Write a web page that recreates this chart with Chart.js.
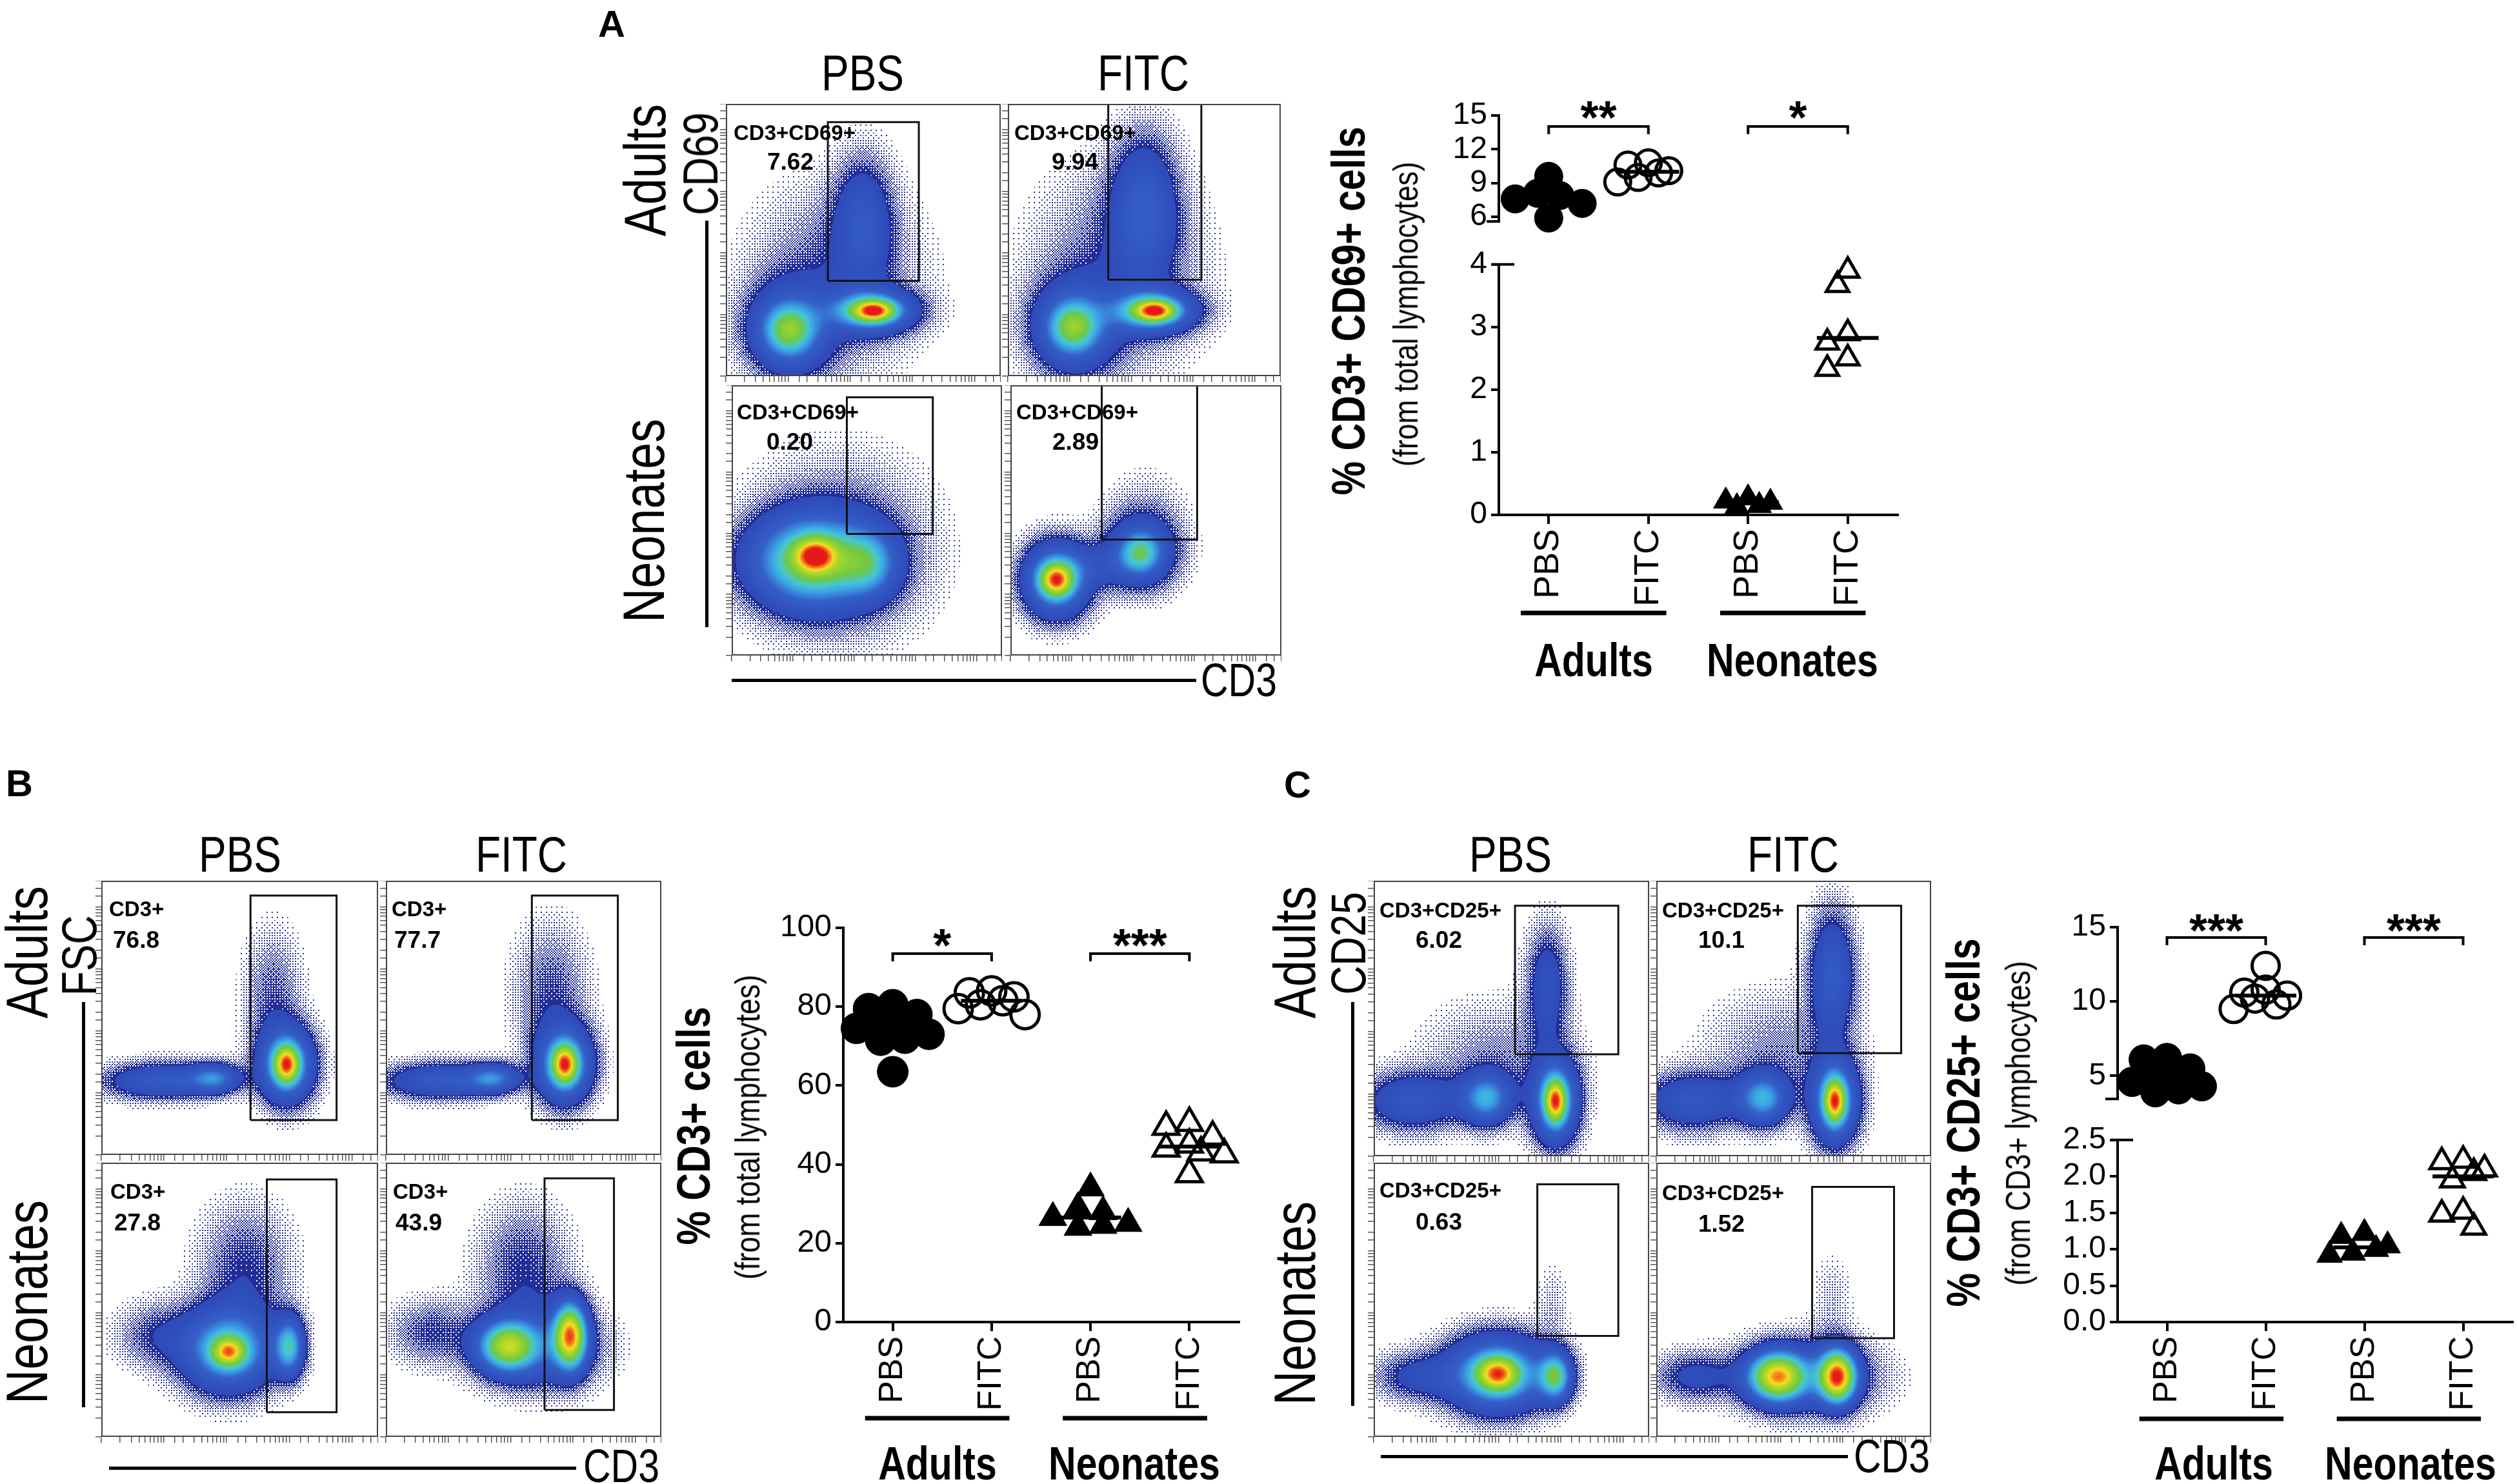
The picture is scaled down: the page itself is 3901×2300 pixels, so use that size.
<!DOCTYPE html>
<html>
<head>
<meta charset="utf-8">
<script src="https://cdn.jsdelivr.net/npm/chart.js@4.4.1/dist/chart.umd.min.js"></script>
<style>
html, body { margin: 0; padding: 0; background: #fff; overflow: hidden; }
#fig { position: relative; width: 3901px; height: 2300px; background: #fff; }
canvas { position: absolute; }
.t { position: absolute; white-space: nowrap; line-height: 1; color: #000; font-family: 'Liberation Sans', Arial, sans-serif; }
.ln { position: absolute; background: #000; }
</style>
</head>
<body>
<div id="fig"></div>
<script>
// ---- data ----
var groupNames = ['PBS', 'FITC', 'PBS', 'FITC'];
var cohortNames = ['Adults', 'Neonates'];

// A: % CD3+ CD69+ cells (from total lymphocytes)
var aAdultPBS = [9.6, 8.1, 7.9, 7.6, 7.2, 5.9];
var aAdultFITC = [10.8, 10.6, 10.1, 9.9, 9.5, 9.1];
var aNeoPBS = [0.27, 0.22, 0.2, 0.15, 0.13];
var aNeoFITC = [3.9, 3.67, 2.9, 2.75, 2.5, 2.33];
var aTicksUpper = [6, 9, 12, 15];
var aTicksLower = [0, 1, 2, 3, 4];
var aStars = ['**', '*'];

// B: % CD3+ cells (from total lymphocytes)
var bAdultPBS = [80.5, 79.5, 78, 75.5, 75, 74.5, 73, 72, 71.5, 63.5];
var bAdultFITC = [84, 83.5, 82.5, 81.5, 80.5, 79.5, 78];
var bNeoPBS = [34, 29, 28, 26.5, 25, 24.5, 24];
var bNeoFITC = [50.5, 49.5, 47, 45, 44, 43, 42.5, 37.5];
var bTicks = [0, 20, 40, 60, 80, 100];
var bStars = ['*', '***'];

// C: % CD3+ CD25+ cells (from CD3+ lymphocytes)
var cAdultPBS = [6.2, 6.1, 5.5, 5.0, 4.6, 4.5, 4.3, 4.1, 3.9];
var cAdultFITC = [12.4, 10.8, 10.6, 10.4, 10.2, 9.8, 9.5];
var cNeoPBS = [1.22, 1.18, 1.05, 1.0, 0.95, 0.92];
var cNeoFITC = [2.22, 2.2, 2.1, 2.05, 1.95, 1.52, 1.48, 1.3];
var cTicksUpper = [5, 10, 15];
var cTicksLower = [0, 0.5, 1, 1.5, 2, 2.5];
var cStars = ['***', '***'];

// flow populations per panel: [x, y, spreadX, spreadY, density] on 0-100 axes
var popA_adPBS = [[54, 24, 5, 2.5, 0.5], [53, 24, 10, 5, 0.5], [23, 17, 6, 6, 0.35], [23, 17, 10, 11, 0.3], [50, 57, 7, 15, 0.2], [40, 35, 20, 22, 0.1]];
var popA_adFITC = [[54, 24, 5, 2.5, 0.5], [53, 24, 10, 5, 0.5], [24, 18, 6, 6, 0.35], [24, 18, 10, 11, 0.3], [50, 62, 8, 17, 0.24], [40, 38, 20, 24, 0.1]];
var popA_neoPBS = [[31, 37, 5, 4, 0.45], [30, 35, 15, 11, 0.6], [51, 34, 7, 8, 0.28], [40, 40, 22, 22, 0.1]];
var popA_neoFITC = [[17, 28, 4, 4, 0.5], [17, 28, 8, 9, 0.5], [48, 38, 5, 5, 0.3], [48, 38, 9, 9, 0.25], [32, 33, 10, 5, 0.1], [50, 50, 10, 12, 0.05]];
var popB_adPBS = [[67, 33, 3, 4.5, 0.5], [67, 33, 6.5, 9, 0.5], [41, 28, 6, 3.5, 0.3], [22, 27, 14, 4.5, 0.25], [62, 58, 7, 16, 0.09]];
var popB_adFITC = [[65, 33, 3, 4.5, 0.5], [65, 33, 6.5, 9, 0.5], [39, 28, 6, 3.5, 0.3], [20, 27, 14, 4.5, 0.25], [60, 58, 9, 17, 0.1]];
var popB_neoPBS = [[46, 31, 4, 3.5, 0.45], [46, 32, 11, 10, 0.5], [68, 33, 3.5, 7, 0.45], [52, 62, 11, 15, 0.11], [20, 37, 10, 8, 0.1]];
var popB_neoFITC = [[44, 33, 7, 6, 0.6], [67, 37, 4, 8, 0.8], [55, 33, 14, 10, 0.25], [50, 62, 11, 15, 0.11], [16, 38, 10, 8, 0.1]];
var popC_adPBS = [[66, 20, 2.5, 5, 0.5], [66, 20, 5.5, 10, 0.5], [41, 21, 6, 6, 0.4], [14, 20, 12, 7, 0.22], [63, 62, 5, 14, 0.18], [45, 35, 18, 14, 0.07]];
var popC_adFITC = [[65, 20, 2.5, 5, 0.5], [65, 20, 5.5, 10, 0.5], [39, 21, 6, 6, 0.4], [13, 20, 12, 7, 0.22], [64, 66, 5.5, 15, 0.25], [45, 37, 18, 15, 0.07]];
var popC_neoPBS = [[45, 23, 5, 4, 0.45], [45, 23, 12, 9, 0.55], [66, 22, 4, 6, 0.5], [15, 22, 10, 6, 0.14], [65, 48, 4, 10, 0.04]];
var popC_neoFITC = [[44, 22, 7, 6, 0.75], [66, 22, 4.5, 6.5, 0.85], [55, 22, 16, 9, 0.22], [14, 22, 10, 6, 0.14], [64, 50, 5, 11, 0.04]];

// gates [x1, y1, x2, y2] and their percentages
var gatesA = [[37.1, 35, 70.2, 93.3], [36.8, 35.4, 70.9, 100], [42.6, 45, 74.4, 95.5], [33.7, 42.9, 68.9, 100]];
var gatesB = [[53.9, 12.7, 85, 94.6], [53, 12.7, 84.2, 94.6], [59.8, 9, 85, 93.9], [57.6, 9.8, 82.8, 94.3]];
var gatesC = [[51.3, 37, 88.8, 90.9], [51.5, 37.4, 89.1, 90.9], [59.4, 36.8, 88.8, 92.1], [56.7, 36, 86.5, 91.2]];
var pctA = ['7.62', '9.94', '0.20', '2.89'];
var pctB = ['76.8', '77.7', '27.8', '43.9'];
var pctC = ['6.02', '10.1', '0.63', '1.52'];

// ---- drawing ----
var REG = "'Liberation Sans', Arial, sans-serif";
var NARROW_X = 0.82;   // the figure uses a condensed face
Chart.defaults.font.family = REG;
Chart.defaults.color = '#000';
Chart.defaults.animation = false;

var fig = document.getElementById('fig');

function addText(s, x, y, size, opt) {
    opt = opt || {};
    var d = document.createElement('div');
    d.className = 't';
    d.textContent = s;
    d.style.left = x + 'px';
    d.style.top = y + 'px';
    d.style.fontSize = size + 'px';
    d.style.fontWeight = opt.bold ? 'bold' : 'normal';
    var sx = opt.sx === undefined ? NARROW_X : opt.sx;
    if (opt.anchor === 'left') {
        d.style.transformOrigin = '0 50%';
        d.style.transform = 'translate(0,-50%) scaleX(' + sx + ')';
    } else {
        d.style.transform = 'translate(-50%,-50%)' + (opt.rot ? ' rotate(-90deg)' : '') + ' scaleX(' + sx + ')';
    }
    fig.appendChild(d);
}

function addLine(x1, y1, x2, y2, w) {
    var d = document.createElement('div');
    d.className = 'ln';
    if (x1 === x2) {
        d.style.left = (x1 - w / 2) + 'px'; d.style.top = y1 + 'px';
        d.style.width = w + 'px'; d.style.height = (y2 - y1) + 'px';
    } else {
        d.style.left = x1 + 'px'; d.style.top = (y1 - w / 2) + 'px';
        d.style.width = (x2 - x1) + 'px'; d.style.height = w + 'px';
    }
    fig.appendChild(d);
}

function median(a) {
    var s = a.slice().sort(function(p, q) { return p - q; });
    var m = s.length >> 1;
    return s.length % 2 ? s[m] : (s[m - 1] + s[m]) / 2;
}

// spread overlapping points sideways (scatter-dot layout)
function swarm(vals, pxX, pxY, diam) {
    var order = vals.map(function(v, i) { return i; }).sort(function(a, b) { return vals[b] - vals[a]; });
    var step = 0.36 * diam / pxX;
    var cand = [0];
    for (var k = 1; k <= 3; k++) { cand.push(-k * step, k * step); }
    var placed = [], off = [];
    order.forEach(function(i, n) {
        var best = cand[1 + (n % 2)];
        for (var c = 0; c < cand.length; c++) {
            var ok = placed.every(function(p) {
                return Math.hypot((cand[c] - p.x) * pxX, (vals[i] - p.y) * pxY) >= 0.62 * diam;
            });
            if (ok) { best = cand[c]; break; }
        }
        off[i] = best;
        placed.push({ x: best, y: vals[i] });
    });
    return off;
}

var annotPlugin = {
    id: 'annot',
    afterDraw: function(chart, args, o) {
        var ctx = chart.ctx, xs = chart.scales.x, a = chart.chartArea;
        ctx.save();
        ctx.strokeStyle = '#000';
        ctx.fillStyle = '#000';
        ctx.lineCap = 'butt';
        (o.brackets || []).forEach(function(b) {
            var x1 = xs.getPixelForValue(b.from), x2 = xs.getPixelForValue(b.to);
            var y = b.y - o.top;
            ctx.lineWidth = 4;
            ctx.beginPath();
            ctx.moveTo(x1, y + 12); ctx.lineTo(x1, y); ctx.lineTo(x2, y); ctx.lineTo(x2, y + 12);
            ctx.stroke();
            ctx.font = 'bold 72px ' + REG;
            ctx.textAlign = 'center';
            ctx.textBaseline = 'alphabetic';
            ctx.fillText(b.label, (x1 + x2) / 2, b.starY - o.top + 0.56 * 72);
        });
        (o.groups || []).forEach(function(g) {
            var x1 = xs.getPixelForValue(g.from - 0.28), x2 = xs.getPixelForValue(g.to + 0.18);
            ctx.lineWidth = 7;
            ctx.beginPath();
            ctx.moveTo(x1, g.y - o.top); ctx.lineTo(x2, g.y - o.top);
            ctx.stroke();
        });
        ctx.lineWidth = 4;
        if (o.breakBelow) {
            ctx.beginPath(); ctx.moveTo(a.left - 19, a.bottom); ctx.lineTo(a.left, a.bottom); ctx.stroke();
        }
        if (o.breakAbove) {
            ctx.beginPath(); ctx.moveTo(a.left - 10, a.top); ctx.lineTo(a.left + 24, a.top); ctx.stroke();
        }
        ctx.restore();
    }
};

function dotChart(o) {
    var YW = 130, XH = o.showX ? 140 : 0, padRight = 40;
    var plotW = o.right - o.axisX, plotH = o.bottom - o.top;
    var cw = YW + plotW + padRight, ch = o.padTop + plotH + XH + o.padBottom;
    var cv = document.createElement('canvas');
    cv.width = cw; cv.height = ch;
    var left = o.axisX - YW, top = o.top - o.padTop;
    cv.style.left = left + 'px'; cv.style.top = top + 'px';
    cv.style.width = cw + 'px'; cv.style.height = ch + 'px';
    fig.appendChild(cv);

    var pxX = plotW / 4, pxY = plotH / (o.yMax - o.yMin);
    var datasets = [];
    o.groups.forEach(function(vals, g) {
        var med = median(vals);
        if (med >= o.yMin && med <= o.yMax) {
            datasets.push({
                type: 'line', data: [{ x: g - 0.31, y: med }, { x: g + 0.31, y: med }],
                borderColor: '#000', borderWidth: 6, pointRadius: 0, order: 0, clip: false
            });
        }
    });
    o.groups.forEach(function(vals, g) {
        var seg = vals.filter(function(v) { return v >= o.lo && v <= o.hi; });
        var tri = g >= 2, open = g % 2 === 1;
        var r = tri ? o.rTri : o.rCirc;
        if (open) r -= 2;
        var off = swarm(seg, pxX, pxY, 2 * r + 4);
        datasets.push({
            data: seg.map(function(v, i) { return { x: g + off[i], y: v }; }),
            pointStyle: tri ? 'triangle' : 'circle',
            pointRadius: r, pointHoverRadius: r,
            backgroundColor: open ? 'rgba(0,0,0,0)' : '#000',
            borderColor: '#000', borderWidth: open ? 5 : 1,
            order: 1, clip: false
        });
    });

    new Chart(cv, {
        type: 'scatter',
        data: { datasets: datasets },
        options: {
            responsive: false,
            animation: false,
            events: [],
            layout: { padding: { top: o.padTop, bottom: o.padBottom, right: padRight, left: 0 } },
            plugins: {
                legend: { display: false },
                tooltip: { enabled: false },
                annot: {
                    top: top, brackets: o.brackets || [], groups: o.groupLines || [],
                    breakBelow: !!o.breakBelow, breakAbove: !!o.breakAbove
                }
            },
            scales: {
                x: {
                    type: 'linear', min: -0.5, max: 3.5, display: o.showX,
                    afterBuildTicks: function(s) { s.ticks = [0, 1, 2, 3].map(function(v) { return { value: v }; }); },
                    afterFit: function(s) { s.height = XH; },
                    ticks: {
                        callback: function(v) { return groupNames[Math.round(v)]; },
                        autoSkip: false, minRotation: 90, maxRotation: 90, padding: 8,
                        font: { size: o.xFont }
                    },
                    grid: { drawOnChartArea: false, tickLength: 14, lineWidth: 4, color: '#000' },
                    border: { display: true, width: 4, color: '#000' }
                },
                y: {
                    type: 'linear', min: o.yMin, max: o.yMax,
                    afterBuildTicks: function(s) { s.ticks = o.ticks.map(function(v) { return { value: v }; }); },
                    afterFit: function(s) { s.width = YW; },
                    ticks: {
                        callback: function(v) { return o.fmt ? o.fmt(v) : String(v); },
                        autoSkip: false, padding: 6, font: { size: 48 }
                    },
                    grid: { drawOnChartArea: false, tickLength: 12, lineWidth: 4, color: '#000' },
                    border: { display: true, width: 4, color: '#000' }
                }
            }
        },
        plugins: [annotPlugin]
    });
}

// flow density colouring
var CMAP = [[0, [35, 45, 150]], [0.1, [45, 72, 182]], [0.3, [52, 95, 200]], [0.42, [60, 165, 230]],
            [0.5, [70, 200, 205]], [0.6, [110, 200, 70]], [0.75, [170, 215, 40]], [0.85, [245, 220, 30]],
            [0.93, [245, 110, 25]], [1.0, [230, 25, 25]]];
var BAYER = [[0, 8, 2, 10], [12, 4, 14, 6], [3, 11, 1, 9], [15, 7, 13, 5]];
function cmap(d) {
    d = Math.min(d, 1);
    for (var i = 1; i < CMAP.length; i++) {
        if (d <= CMAP[i][0]) {
            var t0 = CMAP[i - 1][0], c0 = CMAP[i - 1][1], t1 = CMAP[i][0], c1 = CMAP[i][1];
            var f = (d - t0) / (t1 - t0);
            return [c0[0] + f * (c1[0] - c0[0]), c0[1] + f * (c1[1] - c0[1]), c0[2] + f * (c1[2] - c0[2])];
        }
    }
    return CMAP[CMAP.length - 1][1];
}

var densityPlugin = {
    id: 'density',
    beforeDatasetsDraw: function(chart, args, o) {
        var a = chart.chartArea, xs = chart.scales.x, ys = chart.scales.y;
        var w = Math.round(a.right - a.left), h = Math.round(a.bottom - a.top);
        var off = document.createElement('canvas');
        off.width = w; off.height = h;
        var octx = off.getContext('2d');
        var img = octx.createImageData(w, h), px = img.data;
        var vx = [], vy = [];
        for (var i = 0; i < w; i++) vx.push(xs.getValueForPixel(a.left + i + 0.5));
        for (var j = 0; j < h; j++) vy.push(ys.getValueForPixel(a.top + j + 0.5));
        var blobs = o.blobs;
        for (j = 0; j < h; j++) {
            for (i = 0; i < w; i++) {
                var d = 0;
                for (var b = 0; b < blobs.length; b++) {
                    var bl = blobs[b];
                    var dx = (vx[i] - bl[0]) / bl[2], dy = (vy[j] - bl[1]) / bl[3];
                    var q = dx * dx + dy * dy;
                    if (q < 30) d += bl[4] * Math.exp(-0.5 * q);
                }
                if (d < 0.01) continue;
                var c;
                if (d < 0.12) {
                    // sparse events: ordered dither of single dots
                    var thr = (BAYER[(j >> 1) & 3][(i >> 1) & 3] + 0.5) / 16;
                    if ((d - 0.01) / 0.11 < thr) continue;
                    c = [34, 46, 150];
                } else {
                    c = cmap(d);
                }
                var k = (j * w + i) * 4;
                px[k] = c[0]; px[k + 1] = c[1]; px[k + 2] = c[2]; px[k + 3] = 255;
            }
        }
        octx.putImageData(img, 0, 0);
        chart.ctx.drawImage(off, a.left, a.top);
    },
    afterDraw: function(chart) {
        var a = chart.chartArea, ctx = chart.ctx;
        ctx.save();
        ctx.strokeStyle = '#444';
        ctx.lineWidth = 2;
        ctx.strokeRect(a.left + 1, a.top + 1, a.right - a.left - 2, a.bottom - a.top - 2);
        ctx.restore();
    }
};

function flowChart(box, blobs, gate) {
    var T = 9;   // room for the log tick marks on the left and bottom
    var w = box[2] - box[0] + T, h = box[3] - box[1] + T;
    var cv = document.createElement('canvas');
    cv.width = w; cv.height = h;
    cv.style.left = (box[0] - T) + 'px'; cv.style.top = box[1] + 'px';
    cv.style.width = w + 'px'; cv.style.height = h + 'px';
    fig.appendChild(cv);
    var logTicks = {
        type: 'logarithmic', min: 10, max: 262144,
        ticks: { display: false },
        grid: { drawOnChartArea: false, drawTicks: true, tickLength: T, lineWidth: 1.5, color: '#555' },
        border: { display: false }
    };
    new Chart(cv, {
        type: 'scatter',
        data: {
            datasets: [{
                data: [{ x: gate[0], y: gate[1] }, { x: gate[0], y: gate[3] }, { x: gate[2], y: gate[3] },
                       { x: gate[2], y: gate[1] }, { x: gate[0], y: gate[1] }],
                showLine: true, borderColor: '#111', borderWidth: 3, pointRadius: 0, clip: false
            }]
        },
        options: {
            responsive: false, animation: false, events: [],
            layout: { padding: 0 },
            plugins: { legend: { display: false }, tooltip: { enabled: false }, density: { blobs: blobs } },
            scales: {
                x: { type: 'linear', min: 0, max: 100, display: false },
                y: { type: 'linear', min: 0, max: 100, display: false },
                xl: Object.assign({ position: 'bottom', axis: 'x', afterFit: function(s) { s.height = T; } }, logTicks),
                yl: Object.assign({ position: 'left', axis: 'y', afterFit: function(s) { s.width = T; } }, logTicks)
            }
        },
        plugins: [densityPlugin]
    });
}

// ---- panel A ----
var boxesA = [[1125, 161, 1551, 583], [1562, 161, 1985, 583], [1134, 597, 1553, 1016], [1566, 597, 1986, 1016]];
[popA_adPBS, popA_adFITC, popA_neoPBS, popA_neoFITC].forEach(function(p, i) { flowChart(boxesA[i], p, gatesA[i]); });
var groupsA = [aAdultPBS, aAdultFITC, aNeoPBS, aNeoFITC];
dotChart({
    axisX: 2323, right: 2941, top: 179, bottom: 346, yMin: 5.6, yMax: 15, ticks: aTicksUpper,
    lo: 4.8, hi: 99, groups: groupsA, showX: false, padTop: 60, padBottom: 32, rCirc: 22, rTri: 22, xFont: 54,
    breakBelow: true,
    brackets: [{ from: 0, to: 1, y: 196, starY: 167, label: aStars[0] }, { from: 2, to: 3, y: 196, starY: 167, label: aStars[1] }]
});
dotChart({
    axisX: 2323, right: 2941, top: 407, bottom: 798, yMin: 0, yMax: 4, ticks: aTicksLower,
    lo: -1, hi: 4.8, groups: groupsA, showX: true, padTop: 32, padBottom: 60, rCirc: 22, rTri: 22, xFont: 54,
    breakAbove: true,
    groupLines: [{ from: 0, to: 1, y: 950 }, { from: 2, to: 3, y: 950 }]
});

// ---- panel B ----
var boxesB = [[157, 1365, 586, 1790], [598, 1365, 1025, 1790], [157, 1802, 586, 2227], [598, 1802, 1025, 2227]];
[popB_adPBS, popB_adFITC, popB_neoPBS, popB_neoFITC].forEach(function(p, i) { flowChart(boxesB[i], p, gatesB[i]); });
dotChart({
    axisX: 1307, right: 1920, top: 1438, bottom: 2049, yMin: 0, yMax: 100, ticks: bTicks,
    lo: -1, hi: 101, groups: [bAdultPBS, bAdultFITC, bNeoPBS, bNeoFITC], showX: true,
    padTop: 40, padBottom: 60, rCirc: 24, rTri: 25, xFont: 52,
    brackets: [{ from: 0, to: 1, y: 1478, starY: 1450, label: bStars[0] }, { from: 2, to: 3, y: 1478, starY: 1450, label: bStars[1] }],
    groupLines: [{ from: 0, to: 1, y: 2198 }, { from: 2, to: 3, y: 2198 }]
});

// ---- panel C ----
var boxesC = [[2129, 1365, 2556, 1792], [2567, 1365, 2993, 1792], [2129, 1802, 2556, 2227], [2567, 1802, 2993, 2227]];
[popC_adPBS, popC_adFITC, popC_neoPBS, popC_neoFITC].forEach(function(p, i) { flowChart(boxesC[i], p, gatesC[i]); });
var groupsC = [cAdultPBS, cAdultFITC, cNeoPBS, cNeoFITC];
dotChart({
    axisX: 3282, right: 3894, top: 1437, bottom: 1706, yMin: 3.45, yMax: 15, ticks: cTicksUpper,
    lo: 2.98, hi: 99, groups: groupsC, showX: false, padTop: 60, padBottom: 32, rCirc: 23, rTri: 23, xFont: 52,
    breakBelow: true,
    brackets: [{ from: 0, to: 1, y: 1453, starY: 1427, label: cStars[0] }, { from: 2, to: 3, y: 1453, starY: 1427, label: cStars[1] }]
});
dotChart({
    axisX: 3282, right: 3894, top: 1764, bottom: 2049, yMin: 0, yMax: 2.5, ticks: cTicksLower,
    fmt: function(v) { return v.toFixed(1); },
    lo: -1, hi: 2.98, groups: groupsC, showX: true, padTop: 32, padBottom: 60, rCirc: 23, rTri: 23, xFont: 52,
    breakAbove: true,
    groupLines: [{ from: 0, to: 1, y: 2199 }, { from: 2, to: 3, y: 2199 }]
});

// ---- text and frame lines ----
addText('A', 948, 37, 58, { bold: true, sx: 1 });
addText('B', 30, 1214, 58, { bold: true, sx: 1 });
addText('C', 2011, 1216, 58, { bold: true, sx: 1 });

[[1337, 1772, 113], [372, 808, 1324], [2341, 2779, 1324]].forEach(function(p) {
    addText(groupNames[0], p[0], p[2], 78);
    addText(groupNames[1], p[1], p[2], 78);
});

addText(cohortNames[0], 1000, 264, 90, { rot: true });
addText(cohortNames[1], 998, 807, 90, { rot: true });
addText('CD69', 1086, 254, 76, { rot: true });
addText(cohortNames[0], 42, 1476, 90, { rot: true });
addText(cohortNames[1], 42, 2018, 90, { rot: true });
addText('FSC', 123, 1481, 76, { rot: true });
addText(cohortNames[0], 2007, 1476, 90, { rot: true });
addText(cohortNames[1], 2007, 2020, 90, { rot: true });
addText('CD25', 2090, 1462, 76, { rot: true });

addLine(1095, 342, 1095, 972, 5);
addLine(1134, 1054, 1854, 1054, 5);
addText('CD3', 1920, 1054, 72);
addLine(129, 1553, 129, 2181, 5);
addLine(169, 2275, 893, 2275, 5);
addText('CD3', 963, 2272, 72);
addLine(2096, 1553, 2096, 2179, 5);
addLine(2140, 2257, 2864, 2257, 5);
addText('CD3', 2932, 2257, 72);

// gate labels
var gateNamePos = {
    A: [[1137, 205, 1225, 250], [1572, 205, 1666, 250], [1142, 638, 1224, 684], [1575, 638, 1667, 684]],
    B: [[169, 1408, 211, 1456], [607, 1408, 647, 1456], [171, 1846, 213, 1894], [609, 1846, 649, 1894]],
    C: [[2138, 1410, 2230, 1456], [2576, 1410, 2668, 1456], [2138, 1844, 2230, 1893], [2576, 1848, 2668, 1896]]
};
[['A', 'CD3+CD69+', pctA], ['B', 'CD3+', pctB], ['C', 'CD3+CD25+', pctC]].forEach(function(p) {
    gateNamePos[p[0]].forEach(function(q, i) {
        addText(p[1], q[0], q[1], 33, { bold: true, anchor: 'left', sx: 1 });
        addText(p[2][i], q[2], q[3], 37, { bold: true, sx: 1 });
    });
});

// dot plot axis titles
addText('% CD3+ CD69+ cells', 2090, 482, 72, { bold: true, rot: true });
addText('(from total lymphocytes)', 2178, 487, 54, { rot: true });
addText('% CD3+ cells', 1075, 1745, 72, { bold: true, rot: true });
addText('(from total lymphocytes)', 1158, 1747, 54, { rot: true });
addText('% CD3+ CD25+ cells', 3043, 1740, 72, { bold: true, rot: true });
addText('(from CD3+ lymphocytes)', 3127, 1741, 54, { rot: true });

// cohort labels under the dot plots
[[2470, 2778, 1023], [1453, 1758, 2268], [3431, 3736, 2268]].forEach(function(p) {
    addText(cohortNames[0], p[0], p[2], 72, { bold: true });
    addText(cohortNames[1], p[1], p[2], 72, { bold: true });
});
</script>
</body>
</html>
